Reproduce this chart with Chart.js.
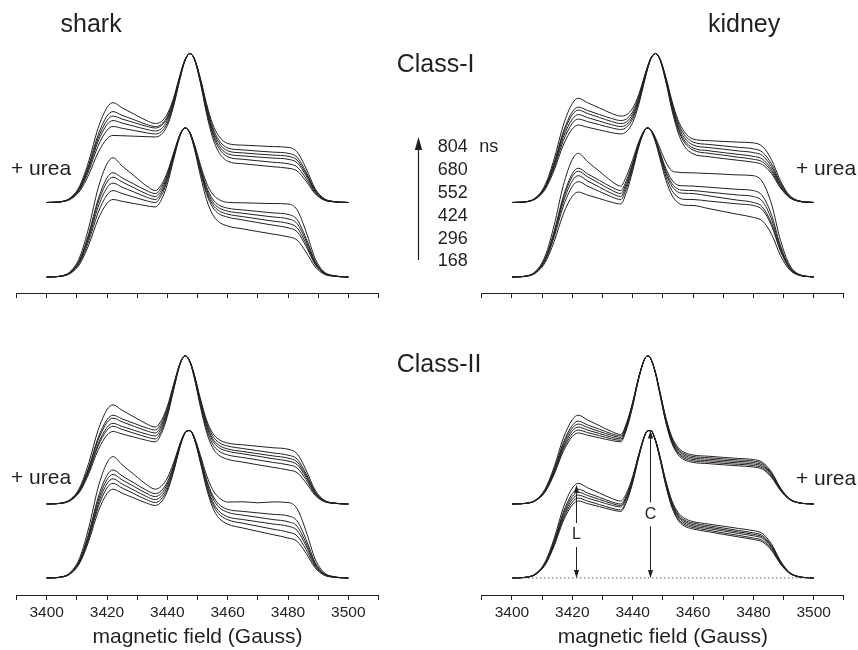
<!DOCTYPE html>
<html>
<head>
<meta charset="utf-8">
<script src="https://cdn.jsdelivr.net/npm/chart.js@4.4.1/dist/chart.umd.min.js"></script>
<style>
html,body{margin:0;padding:0;background:#fff;}
#wrap{position:relative;width:858px;height:650px;overflow:hidden;font-family:"Liberation Sans",Arial,Helvetica,sans-serif;color:#231f20;}
#wrap canvas{position:absolute;}
.t{position:absolute;white-space:pre;line-height:1;}
</style>
</head>
<body>
<div id="wrap">
  <canvas id="c1" width="429" height="310" style="left:0;top:0"></canvas>
  <canvas id="c2" width="429" height="310" style="left:429px;top:0"></canvas>
  <canvas id="c3" width="429" height="340" style="left:0;top:310px"></canvas>
  <canvas id="c4" width="429" height="340" style="left:429px;top:310px"></canvas>
  <svg id="tarrow" width="30" height="140" style="position:absolute;left:404px;top:130px">
    <line x1="14.5" y1="130" x2="14.5" y2="16" stroke="#231f20" stroke-width="1.2"/>
    <polygon points="14.5,7 10.8,20 18.2,20" fill="#231f20"/>
  </svg>
</div>
<script>
// ---------------- data ----------------
const FIELD = [3400,3405,3408,3411,3414,3417,3420,3422,3425,3429,3433,3436,3438,3440,3442,3444,3445,3446,3447.5,3449,3451,3453,3455,3457,3460,3465,3470,3475,3480,3483,3486,3489,3492,3495,3500];
const LABELED_TICKS = [3400,3420,3440,3460,3480,3500];
const DELAYS_NS = [804,680,552,424,296,168];

// shark, Class-I, no urea (lower bundle)
const sharkI_lower = [
 [0,0.8,4,13.6,33.6,59.2,76,80,74.5,67.9,61.3,58,61.9,70.4,82.8,94.9,98.7,100,97,89,75.1,63.1,55.7,52.1,50.1,49.8,49.5,49.3,49,45.1,30.4,12.3,3.4,1,0],
 [0,0.7,3.5,11.9,29.4,51.8,66.5,70,66.5,62.3,58.1,56,60.1,68.8,81.8,94.6,98.6,100,96.8,88.2,73.4,60.5,52.4,48.4,46.2,45,44,43,42,38.6,26,10.5,2.9,0.8,0],
 [0,0.7,3.4,11.4,28.1,49.6,63.7,67,63.8,59.8,55.9,54,58.3,67.5,81.1,94.3,98.5,100,96.7,87.7,72.3,59,50.5,46.5,44.2,42.8,41.5,40.3,39,35.9,24.2,9.8,2.7,0.8,0],
 [0,0.6,3.2,10.7,26.5,46.6,59.9,63,60.3,57,53.7,52,56.5,66.1,80.3,94.1,98.5,100,96.5,87.3,71.2,57.3,48.7,44.6,42.2,40.5,39,37.5,36,33.1,22.3,9,2.5,0.7,0],
 [0,0.6,2.9,9.9,24.4,42.9,55.1,58,56,53.6,51.2,50,54.7,64.7,79.5,93.9,98.4,100,96.4,86.8,70.2,55.8,46.9,42.6,40.2,38.3,36.5,34.8,33,30.4,20.5,8.3,2.3,0.7,0],
 [0,0.5,2.6,8.8,21.8,38.5,49.4,52,50.8,49.3,47.8,47,51.8,62.3,78.1,93.4,98.3,100,96.1,85.7,67.6,51.9,42,37.1,34.2,32.3,30.5,28.8,27,24.8,16.7,6.8,1.9,0.5,0]
];
// shark, Class-I, + urea (upper bundle)
const sharkI_urea = [
 [0,0.7,3.4,11.4,28.1,49.6,63.7,67,63.5,59.3,55.1,53,54.3,59.4,69.7,84.2,91.1,96.6,100,96.5,83.1,66.3,52.8,44.8,39.6,38.5,38,37.5,37,34,22.9,9.3,2.6,0.7,0],
 [0,0.6,3.1,10.4,25.6,45.1,58,61,58.5,55.5,52.5,51,52.4,57.7,68.4,83.5,90.7,96.4,100,96.3,82.2,64.7,50.6,42.1,36.6,35.3,34.5,33.8,33,30.4,20.5,8.3,2.3,0.7,0],
 [0,0.6,2.9,9.9,24.4,42.9,55.1,58,56,53.6,51.2,50,51.5,56.7,67.7,83.1,90.5,96.3,100,96.2,81.8,63.7,49.1,40.4,34.7,33.3,32.5,31.8,31,28.5,19.2,7.8,2.2,0.6,0],
 [0,0.6,2.8,9.4,23.1,40.7,52.3,55,53.3,51.2,49.1,48,49.5,55,66.5,82.5,90.1,96.2,100,96.1,81.2,62.5,47.5,38.5,32.7,31.3,30.5,29.8,29,26.7,18,7.3,2,0.6,0],
 [0,0.5,2.6,8.7,21.4,37.7,48.5,51,49.8,48.3,46.8,46,47.6,53.4,65.3,81.8,89.8,96.1,100,96,80.6,61.3,45.9,36.7,30.7,29,28,27,26,23.9,16.1,6.5,1.8,0.5,0],
 [0,0.5,2.3,7.7,18.9,33.3,42.8,45,44.8,44.5,44.2,44,45.7,51.6,64,81.2,89.4,95.9,100,95.8,79.8,59.6,43.6,34,27.7,26,25,24,23,21.2,14.3,5.8,1.6,0.5,0]
];
// kidney, Class-I, no urea
const kidneyI_lower = [
 [0,0.8,4.2,14.1,34.9,61.4,78.9,83,77.5,70.9,64.3,61,68,78.8,90.7,98.9,100,98.9,93.8,86.5,77.2,71.3,70.3,70,69.9,69.5,69,68.5,68,63.9,49,24.5,8.2,2,0],
 [0,0.7,3.7,12.4,30.7,54,69.4,73,69.3,64.8,60.3,58,65.1,76.5,89.6,98.7,100,98.7,92.8,84.1,72.8,65.1,61.6,61.2,61,60.3,59.5,58.8,58,54.5,41.8,20.9,7,1.7,0],
 [0,0.7,3.6,12.1,29.8,52.5,67.5,71,67.3,62.8,58.3,56,63.4,75.4,89.1,98.7,100,98.7,92.4,83.1,71,62.8,59,58.2,58,57,56,55,54,50.8,38.9,19.4,6.5,1.6,0],
 [0,0.7,3.4,11.6,28.6,50.3,64.6,68,64.5,60.3,56.1,54,61.8,74.2,88.6,98.6,100,98.6,92,82.3,69.6,61,57,56.2,56,54.5,53,51.5,50,47,36,18,6,1.5,0],
 [0,0.6,3.2,10.9,26.9,47.4,60.8,64,61,57.4,53.8,52,59.9,72.9,88,98.5,100,98.5,91.5,81.2,67.5,58.1,53.6,52.1,52,51,50,49,48,45.1,34.6,17.3,5.8,1.4,0],
 [0,0.6,2.9,9.7,23.9,42.2,54.2,57,55,52.6,50.2,49,57.3,71.1,87.1,98.4,100,98.4,90.9,79.8,65,54.9,49.9,48.2,48,46,44,42,40,37.6,28.8,14.4,4.8,1.2,0]
];
// kidney, Class-I, + urea
const kidneyI_urea = [
 [0,0.7,3.5,11.9,29.4,51.8,66.5,70,67,63.4,59.8,58,58.9,63.3,72.4,85.5,91.8,96.9,100,96.7,84.2,68.4,55.6,47.8,42.6,41.5,41,40.5,40,37.6,28.8,14.4,4.8,1.2,0],
 [0,0.6,3.2,10.9,26.9,47.4,60.8,64,61.8,59,56.4,55,56.2,60.9,70.9,84.7,91.4,96.7,100,96.6,83.5,67,53.8,45.9,40.6,39,38,37,36,33.8,25.9,13,4.3,1.1,0],
 [0,0.6,3.1,10.5,26,45.9,58.9,62,59.8,57,54.4,53,54.2,59.3,69.6,84.1,91,96.6,100,96.4,82.8,65.8,52.2,43.9,38.6,36.9,35.8,34.6,33.5,31.5,24.1,12.1,4,1,0],
 [0,0.6,3,10,24.8,43.7,56,59,57,54.6,52.2,51,52.4,57.7,68.4,83.5,90.7,96.4,100,96.3,82.2,64.7,50.6,42.1,36.6,34.8,33.5,32.3,31,29.1,22.3,11.2,3.7,0.9,0],
 [0,0.6,2.8,9.5,23.5,41.4,53.2,56,54.3,52.2,50.1,49,50.6,56.1,67.3,82.9,90.4,96.3,100,96.2,81.8,63.7,49.3,40.7,35.2,33.1,31.8,30.4,29,27.3,20.9,10.4,3.5,0.9,0],
 [0,0.5,2.6,8.8,21.8,38.5,49.4,52,50.5,48.7,46.9,46,47.7,53.6,65.6,82.1,89.9,96.1,100,96,80.9,62.1,47.2,38.2,32.7,30.8,29.5,28.3,27,25.4,19.4,9.7,3.2,0.8,0]
];
// shark, Class-II, + urea
const sharkII_urea = [
 [0,0.7,3.4,11.4,28.1,49.6,63.7,67,63.3,58.8,54.3,52,56.4,66,80.2,94.1,98.4,100,96.5,87.1,70.9,56.8,48,43.7,41.2,40,39,38,37,34,22.9,9.3,2.6,0.7,0],
 [0,0.6,3,10.2,25.2,44.4,57,60,57.5,54.5,51.5,50,54.6,64.6,79.4,93.8,98.4,100,96.4,86.7,69.9,55.3,46.2,41.7,39.2,37.5,36,34.5,33,30.4,20.5,8.3,2.3,0.7,0],
 [0,0.6,2.9,9.9,24.4,42.9,55.1,58,55.5,52.5,49.5,48,52.9,63.2,78.7,93.6,98.3,100,96.2,86.2,68.8,53.8,44.3,39.8,37.2,35.5,34,32.5,31,28.5,19.2,7.8,2.2,0.6,0],
 [0,0.5,2.7,9.3,22.9,40.3,51.8,54.5,52.4,49.8,47.3,46,51.2,61.9,77.9,93.4,98.3,100,96.1,85.8,67.9,52.5,42.9,38.2,35.7,33.9,32.3,30.6,29,26.7,18,7.3,2,0.6,0],
 [0,0.5,2.6,8.9,22.1,38.9,49.9,52.5,50.4,47.8,45.3,44,49.3,60.6,77.1,93.2,98.2,100,96,85.2,66.7,50.6,40.6,35.9,33.2,31.4,29.8,28.1,26.5,24.4,16.4,6.6,1.9,0.5,0],
 [0,0.5,2.5,8.3,20.6,36.3,46.6,49,47.3,45.2,43.1,42,47.5,59.1,76.2,92.9,98.1,100,95.8,84.6,65.3,48.6,38.1,33.1,30.2,28.3,26.5,24.8,23,21.2,14.3,5.8,1.6,0.5,0]
];
// shark, Class-II, no urea
const sharkII_lower = [
 [0,0.8,4.1,13.9,34.4,60.7,77.9,82,76.5,69.9,63.3,60,62,67.6,77.5,89.8,95.1,98.7,99.7,95,82.7,69.5,59.8,54.5,51.3,51.5,50.8,51.4,51,46.9,31.6,12.8,3.6,1,0],
 [0,0.7,3.7,12.4,30.7,54,69.4,73,69,64.2,59.4,57,59,65,75.7,88.9,94.7,98.6,99.7,94.5,81.1,66.6,55.9,50,46.4,45,44,43,42,38.6,26,10.5,2.9,0.8,0],
 [0,0.7,3.5,11.9,29.4,51.8,66.5,70,66.3,61.8,57.3,55,57.2,63.5,74.7,88.5,94.5,98.5,99.6,94.3,80.3,65.3,54.2,48.1,44.4,42.5,41,39.5,38,35,23.6,9.5,2.7,0.8,0],
 [0,0.7,3.4,11.4,28.1,49.6,63.7,67,63.5,59.3,55.1,53,55.2,61.7,73.4,87.9,94.2,98.5,99.6,94,79.4,63.5,51.8,45.4,41.4,39.5,38,36.5,35,32.2,21.7,8.8,2.5,0.7,0],
 [0,0.6,3.2,10.9,26.9,47.4,60.8,64,60.8,56.9,53,51,53.3,60.1,72.4,87.4,94,98.4,99.6,93.8,78.6,62.2,50.1,43.5,39.4,37,35,33,31,28.5,19.2,7.8,2.2,0.6,0],
 [0,0.6,3,10.2,25.2,44.4,57,60,57.3,54,50.7,49,51.4,58.5,71.2,86.9,93.7,98.3,99.6,93.5,77.6,60.4,47.8,40.7,36.4,33.8,31.5,29.3,27,24.8,16.7,6.8,1.9,0.5,0]
];
// kidney, Class-II, + urea
const kidneyII_urea = [
 [0,0.6,3,10.2,25.2,44.4,57,60,56.8,52.9,49,47,54.9,68.9,85.9,98.2,100,98.2,89.5,76.3,58.3,45.3,38.3,35,33.1,32.3,31.5,30.8,30,28.2,21.6,10.8,3.6,0.9,0],
 [0,0.6,2.8,9.5,23.5,41.4,53.2,56,53.5,50.5,47.5,46,54.1,68.3,85.6,98.2,100,98.2,89.3,76,57.7,44.5,37.3,34,32.1,31.3,30.5,29.8,29,27.3,20.9,10.4,3.5,0.9,0],
 [0,0.5,2.7,9.2,22.7,40,51.3,54,51.8,49,46.4,45,53.2,67.8,85.4,98.2,100,98.2,89.1,75.5,57,43.6,36.3,33,31.1,30.3,29.5,28.8,28,26.3,20.2,10.1,3.4,0.8,0],
 [0,0.5,2.6,8.8,21.8,38.5,49.4,52,50,47.6,45.2,44,52.4,67.2,85.1,98.1,100,98.1,89,75.2,56.3,42.7,35.3,32,30.1,29.3,28.5,27.8,27,25.4,19.4,9.7,3.2,0.8,0],
 [0,0.5,2.5,8.5,21,37,47.5,50,48.3,46.2,44,43,51.5,66.6,84.9,98.1,100,98.1,88.8,74.8,55.7,41.8,34.4,31,29.1,28.3,27.5,26.8,26,24.4,18.7,9.4,3.1,0.8,0],
 [0,0.5,2.4,8.2,20.2,35.5,45.6,48,46.5,44.7,42.9,42,50.7,66,84.6,98.1,100,98.1,88.6,74.4,54.9,41,33.4,30,28.1,27.3,26.5,25.8,25,23.5,18,9,3,0.8,0]
];
// kidney, Class-II, no urea
const kidneyII_lower = [
 [0,0.6,3.2,10.9,26.9,47.4,60.8,64,61,57.4,53.8,52,57.5,68.6,83.6,96.5,99.6,99.6,93.7,82.7,65.7,52.3,44.4,40.5,38.1,36.5,35,33.5,32,30.1,23,11.5,3.8,1,0],
 [0,0.6,3,10.2,25.2,44.4,57,60,57.5,54.5,51.5,50,55.8,67.4,83.1,96.4,99.6,99.6,93.5,82.2,64.8,51.2,43.2,39.3,37.1,35.4,33.8,32.1,30.5,28.7,22,11,3.7,0.9,0],
 [0,0.6,2.9,9.9,24.4,42.9,55.1,58,55.8,53.1,50.4,49,55,66.8,82.8,96.3,99.6,99.6,93.4,81.9,64.2,50.4,42.2,38.4,36.1,34.4,32.8,31.1,29.5,27.7,21.2,10.6,3.5,0.9,0],
 [0,0.6,2.8,9.5,23.5,41.4,53.2,56,54,51.6,49.2,48,54.1,66.1,82.4,96.2,99.6,99.6,93.3,81.6,63.7,49.6,41.3,37.4,35.1,33.4,31.8,30.1,28.5,26.8,20.5,10.3,3.4,0.9,0],
 [0,0.5,2.7,9.2,22.7,40,51.3,54,52,49.6,47.2,46,52.4,65,81.8,96.1,99.6,99.6,93.1,81.2,62.8,48.5,40.1,36.3,34.1,32.3,30.5,28.8,27,25.4,19.4,9.7,3.2,0.8,0],
 [0,0.5,2.6,8.8,21.8,38.5,49.4,52,50.3,48.2,46.1,45,51.6,64.4,81.5,96.1,99.6,99.6,93,80.9,62.2,47.7,39.2,35.3,33.1,31.3,29.5,27.8,26,24.4,18.7,9.4,3.1,0.8,0]
];
// L / C markers on kidney Class-II (field position, top level in % of central peak)
const MARK_LABELS = ['L','C'];
const MARK_FIELDS = [3421.2, 3445.6];
const MARK_TOPS = [63, 99.6];
const MARK_LABEL_LEVELS = [29, 43];
const BASE_FIELDS = [3400, 3500];

// ---------------- drawing ----------------
const FONT = '"Liberation Sans", Arial, Helvetica, sans-serif';
const INK = '#231f20';
const UREA_OFFSET = 50;

function curveSets(series, offset) {
  return series.map(vals => ({
    data: FIELD.map((x, i) => ({x: x, y: vals[i] + offset})),
    borderColor: INK, borderWidth: 1, pointRadius: 0, fill: false,
    cubicInterpolationMode: 'monotone'
  }));
}

const markerPlugin = {
  id: 'markers',
  afterDatasetsDraw(chart) {
    const xs = chart.scales.x, ys = chart.scales.y, ctx = chart.ctx;
    ctx.save();
    ctx.strokeStyle = INK; ctx.fillStyle = INK; ctx.lineWidth = 1;
    ctx.font = '16px ' + FONT; ctx.textAlign = 'center'; ctx.textBaseline = 'middle';
    MARK_LABELS.forEach((lab, k) => {
      const x = Math.round(xs.getPixelForValue(MARK_FIELDS[k])) + 0.5;
      const yT = ys.getPixelForValue(MARK_TOPS[k]);
      const yB = ys.getPixelForValue(0);
      const yL = ys.getPixelForValue(MARK_LABEL_LEVELS[k]);
      ctx.beginPath();
      ctx.moveTo(x, yT + 6); ctx.lineTo(x, yL - 12);
      ctx.moveTo(x, yL + 12); ctx.lineTo(x, yB - 6);
      ctx.stroke();
      ctx.beginPath(); ctx.moveTo(x, yT); ctx.lineTo(x - 2.6, yT + 8); ctx.lineTo(x + 2.6, yT + 8); ctx.closePath(); ctx.fill();
      ctx.beginPath(); ctx.moveTo(x, yB); ctx.lineTo(x - 2.6, yB - 8); ctx.lineTo(x + 2.6, yB - 8); ctx.closePath(); ctx.fill();
      ctx.fillText(lab, x, yL);
    });
    ctx.restore();
  }
};

function panel(id, lower, upper, o) {
  const datasets = [];
  if (o.baseline) datasets.push({
    data: BASE_FIELDS.map(x => ({x: x, y: 0})), borderColor: '#555', borderWidth: 1,
    borderDash: [1.5, 2.5], pointRadius: 0, fill: false
  });
  datasets.push(...curveSets(lower, 0), ...curveSets(upper, UREA_OFFSET));
  return new Chart(document.getElementById(id), {
    type: 'line',
    data: {datasets: datasets},
    options: {
      responsive: false, animation: false, events: [],
      layout: {padding: {left: o.pl, right: o.pr, top: 0, bottom: 0}},
      plugins: {legend: {display: false}, tooltip: {enabled: false}},
      scales: {
        x: {
          type: 'linear', min: 3390, max: 3510,
          afterFit: s => { s.height = o.axisH; s.paddingLeft = 0; s.paddingRight = 0; },
          ticks: {
            stepSize: 10, autoSkip: false, maxRotation: 0, padding: 3, color: INK,
            font: {family: FONT, size: 15.5},
            callback: v => (o.labels && LABELED_TICKS.includes(v)) ? String(v) : ''
          },
          grid: {drawOnChartArea: false, drawTicks: true, tickLength: 5, color: INK, lineWidth: 1},
          border: {display: true, color: INK, width: 1},
          title: {display: o.labels, text: 'magnetic field (Gauss)', color: INK,
                  font: {family: FONT, size: 21}, padding: {top: 0, bottom: 0}}
        },
        y: {display: false, min: o.ymin, max: o.ymax}
      }
    },
    plugins: o.plugins || []
  });
}

const TOP = {axisH: 17, ymin: -10.74, ymax: 185.9, labels: false};
const BOT = {axisH: 55, ymin: -11.5, ymax: 181.1, labels: true};
panel('c1', sharkI_lower, sharkI_urea, Object.assign({pl: 16.5, pr: 50.5}, TOP));
panel('c2', kidneyI_lower, kidneyI_urea, Object.assign({pl: 52.8, pr: 14.1}, TOP));
panel('c3', sharkII_lower, sharkII_urea, Object.assign({pl: 16.5, pr: 50.5}, BOT));
panel('c4', kidneyII_lower, kidneyII_urea, Object.assign({pl: 52.8, pr: 14.1, baseline: true, plugins: [markerPlugin]}, BOT));

// ---------------- text ----------------
const wrap = document.getElementById('wrap');
function txt(s, left, baseline, size) {
  const d = document.createElement('div');
  d.className = 't';
  d.textContent = s;
  d.style.left = left + 'px';
  d.style.top = (baseline - 0.8465 * size) + 'px';
  d.style.fontSize = size + 'px';
  wrap.appendChild(d);
}
txt('shark', 60.5, 31.7, 25);
txt('kidney', 708, 32.3, 25);
txt('Class-I', 396.7, 71.7, 25);
txt('Class-II', 396.7, 371.7, 25);
txt('+ urea', 11, 175, 21);
txt('+ urea', 11, 484, 21);
txt('+ urea', 796, 175, 21);
txt('+ urea', 796, 485, 21);
DELAYS_NS.forEach((v, i) => txt(String(v), 437.7, 152.7 + i * 22.8, 18));
txt('ns', 479.3, 152.7, 18);
</script>
</body>
</html>
